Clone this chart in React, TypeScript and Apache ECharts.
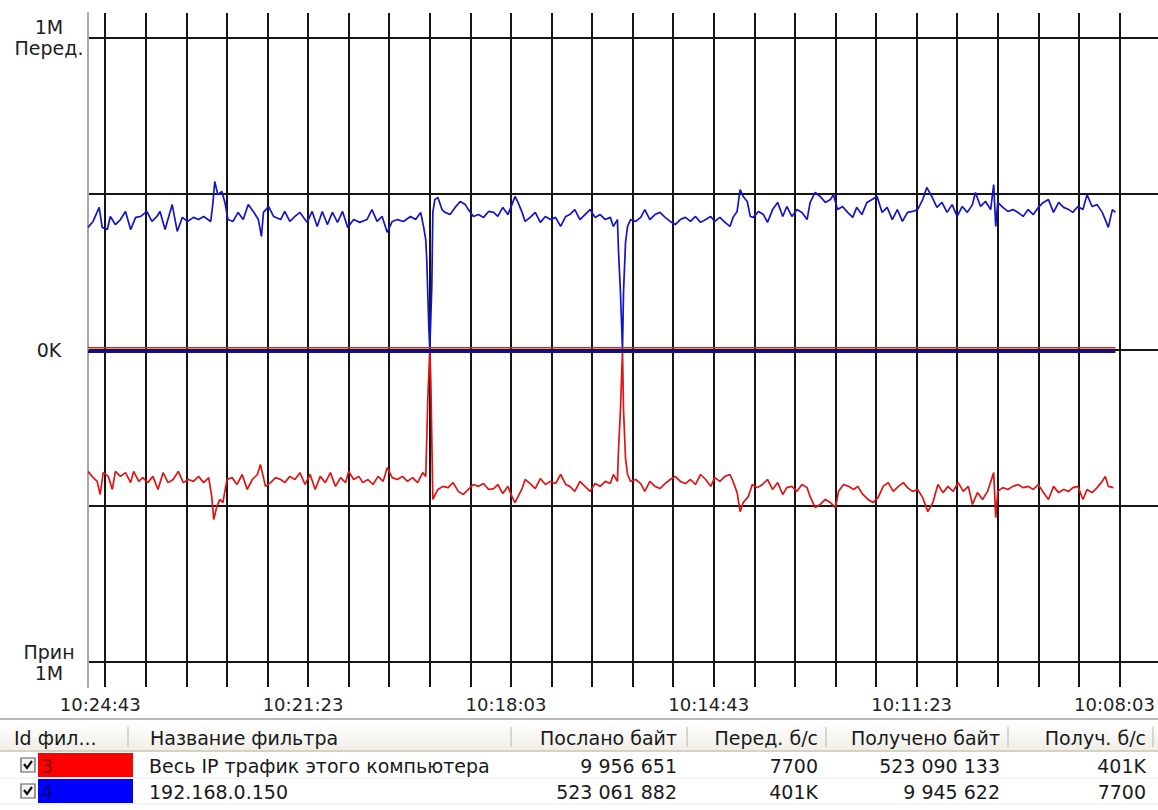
import React, { useEffect, useRef } from "react";
import * as echarts from "echarts";

const FONT = "DejaVu Sans";

// x axis: seconds elapsed (going back in time) since 10:24:43
const X_GRID_SECONDS = [0, 40, 80, 120, 160, 200, 240, 280, 320, 360, 400, 440, 480, 520, 560, 600, 640, 680, 720, 760, 800, 840, 880, 920, 960, 1000];
const X_LABEL_SECONDS = [0, 200, 400, 600, 800, 1000];
const X_LABELS = ["10:24:43", "10:21:23", "10:18:03", "10:14:43", "10:11:23", "10:08:03"];

// y axis in K (transmit up, receive down)
const Y_GRID = [-1000, -500, 0, 500, 1000];
const Y_LABEL_VALUES = [1000, 0, -1000];
const Y_LABELS = ["1M\nПеред.", "0K", "Прин\n1M"];

// filter 4 (192.168.0.150) transmit, K
const BLUE_TX: number[][] = [
  [-17, 393], [-12, 412], [-6, 457], [-3, 393], [2, 386], [5, 428], [10, 402], [15, 418], [20, 444], [25, 386],
  [30, 425], [35, 428], [41, 444], [46, 412], [51, 428], [54, 444], [59, 386], [66, 466], [71, 380], [76, 425],
  [81, 412], [87, 425], [92, 418], [97, 428], [104, 412], [106, 466], [108, 540], [111, 498], [115, 508], [118, 473],
  [121, 418], [126, 412], [131, 441], [136, 418], [141, 466], [146, 444], [151, 418], [154, 364], [156, 441], [161, 460],
  [166, 428], [173, 418], [177, 444], [182, 412], [187, 428], [192, 441], [199, 409], [204, 444], [209, 396], [214, 444],
  [219, 402], [224, 441], [229, 409], [234, 444], [239, 393], [245, 418], [251, 409], [258, 418], [263, 450], [268, 412],
  [273, 428], [278, 377], [283, 412], [288, 418], [294, 412], [301, 428], [306, 418], [311, 441], [314, 393], [316, 354],
  [317, 290], [319, 75], [320, 0], [322, 204], [323, 441], [325, 482], [328, 489], [332, 450], [335, 441], [340, 434],
  [345, 457], [350, 476], [355, 466], [358, 450], [363, 428], [368, 434], [373, 425], [378, 444], [383, 441], [387, 428],
  [392, 457], [397, 434], [401, 466], [404, 492], [407, 473], [411, 441], [414, 412], [419, 425], [424, 441], [429, 409],
  [434, 428], [439, 418], [444, 425], [449, 396], [454, 428], [458, 434], [463, 450], [468, 418], [473, 434], [478, 450],
  [483, 425], [488, 434], [493, 418], [498, 425], [501, 396], [505, 418], [506, 322], [508, 184], [510, 0], [511, 184],
  [513, 345], [515, 396], [518, 418], [523, 412], [528, 425], [532, 450], [537, 418], [542, 434], [547, 441], [552, 425],
  [557, 412], [562, 402], [567, 418], [572, 425], [577, 412], [582, 428], [587, 409], [592, 418], [597, 428], [601, 412],
  [606, 425], [611, 409], [616, 396], [619, 425], [623, 444], [626, 514], [629, 492], [633, 476], [636, 428], [639, 425],
  [644, 444], [649, 434], [653, 409], [658, 450], [663, 473], [668, 428], [672, 460], [677, 428], [682, 450], [687, 441],
  [692, 418], [695, 473], [700, 505], [705, 492], [710, 473], [715, 482], [718, 498], [722, 450], [727, 460], [732, 441],
  [737, 425], [741, 457], [746, 434], [751, 473], [756, 482], [761, 492], [766, 441], [771, 457], [776, 418], [781, 450],
  [786, 412], [791, 441], [796, 444], [801, 450], [806, 482], [810, 521], [815, 492], [820, 457], [825, 473], [830, 441],
  [835, 466], [840, 428], [845, 460], [850, 441], [855, 466], [858, 505], [863, 460], [868, 476], [873, 450], [876, 530],
  [878, 396], [880, 473], [885, 457], [890, 444], [895, 450], [900, 441], [905, 428], [910, 450], [915, 434], [920, 457],
  [925, 473], [930, 482], [935, 441], [940, 473], [945, 457], [950, 450], [954, 441], [959, 460], [964, 450], [968, 498],
  [973, 460], [978, 466], [983, 441], [986, 418], [989, 393], [993, 450], [996, 441],
];

// filter 3 (all IP traffic) receive, K (drawn downwards)
const RED_RX: number[][] = [
  [-17, -389], [-13, -405], [-8, -421], [-5, -463], [-2, -393], [3, -405], [7, -447], [10, -389], [15, -405], [20, -393],
  [25, -425], [28, -389], [33, -421], [37, -409], [42, -425], [47, -405], [52, -447], [57, -393], [62, -425], [67, -415],
  [72, -389], [77, -425], [82, -415], [87, -421], [92, -405], [97, -425], [102, -409], [105, -470], [107, -543], [110, -502],
  [113, -479], [116, -489], [120, -415], [125, -409], [130, -431], [135, -399], [140, -447], [145, -415], [150, -399], [153, -367],
  [158, -437], [163, -425], [168, -409], [173, -415], [177, -425], [182, -405], [187, -415], [192, -393], [197, -431], [202, -399],
  [207, -447], [212, -405], [217, -425], [222, -393], [227, -437], [232, -409], [237, -425], [240, -389], [245, -415], [250, -405],
  [254, -425], [259, -415], [264, -431], [269, -405], [274, -421], [278, -377], [283, -409], [288, -415], [293, -405], [298, -421],
  [303, -409], [308, -425], [313, -393], [316, -405], [317, -287], [318, -159], [320, 0], [321, -95], [322, -287], [323, -479],
  [328, -447], [333, -437], [338, -441], [343, -425], [348, -453], [353, -463], [358, -447], [363, -431], [368, -437], [373, -428],
  [378, -447], [383, -444], [387, -431], [392, -460], [397, -437], [401, -470], [404, -489], [407, -470], [411, -444], [414, -415],
  [419, -428], [424, -444], [429, -412], [434, -431], [439, -421], [444, -428], [449, -399], [454, -431], [458, -437], [463, -453],
  [468, -421], [473, -437], [478, -453], [483, -428], [488, -437], [493, -421], [498, -428], [501, -399], [505, -421], [506, -325],
  [508, -191], [510, 0], [511, -191], [513, -348], [515, -399], [518, -421], [523, -415], [528, -428], [532, -453], [537, -421],
  [542, -437], [547, -444], [552, -428], [557, -415], [562, -405], [567, -421], [572, -428], [577, -415], [582, -431], [587, -399],
  [592, -415], [597, -437], [601, -409], [606, -421], [611, -405], [616, -399], [619, -421], [623, -457], [626, -518], [629, -489],
  [634, -470], [638, -431], [643, -441], [648, -431], [653, -415], [658, -447], [663, -425], [668, -463], [672, -441], [677, -437],
  [682, -453], [687, -431], [692, -441], [695, -470], [700, -505], [705, -495], [710, -479], [715, -489], [720, -505], [723, -453],
  [728, -431], [733, -437], [738, -447], [742, -437], [747, -463], [752, -479], [757, -489], [762, -473], [767, -437], [772, -425],
  [777, -453], [782, -437], [787, -425], [791, -441], [796, -453], [801, -447], [806, -473], [811, -518], [816, -489], [821, -431],
  [826, -457], [831, -437], [836, -453], [841, -425], [846, -453], [851, -437], [855, -495], [860, -457], [865, -479], [870, -453],
  [876, -393], [878, -537], [880, -453], [885, -441], [890, -447], [895, -437], [900, -431], [905, -441], [910, -437], [915, -447],
  [920, -431], [925, -457], [930, -479], [935, -437], [940, -457], [945, -447], [950, -453], [954, -441], [959, -437], [964, -479],
  [968, -447], [973, -457], [978, -441], [983, -421], [986, -405], [989, -437], [994, -441],
];

// small components near zero (7700 b/s)
const RED_TX: number[][] = [[-17, 7], [996, 7]];
const BLUE_RX: number[][] = [[-17, -5], [996, -5]];

// table below the chart
const TABLE_HEADERS = ["Id фил...", "Название фильтра", "Послано байт", "Перед. б/с", "Получено байт", "Получ. б/с"];
const FILTER_IDS = ["3", "4"];
const FILTER_NAMES = ["Весь IP трафик этого компьютера", "192.168.0.150"];
const SENT_BYTES = ["9 956 651", "523 061 882"];
const TX_RATES = ["7700", "401K"];
const RECV_BYTES = ["523 090 133", "9 945 622"];
const RX_RATES = ["401K", "7700"];
const FILTER_COLORS = ["#ff0000", "#0000ff"];
const FILTER_ID_COLORS = ["#8a0000", "#00007a"];

const TFONT = `19px '${FONT}'`;

function buildTable(): any[] {
  const els: any[] = [];
  const headerTop = 722;
  const headerH = 29;
  const rowH = 26;
  const colSeps = [128, 511, 687, 826, 1008, 1153];
  const rightEdges = [677, 818, 1000, 1146];
  els.push({ type: "rect", shape: { x: 0, y: 716, width: 1158, height: 94 }, style: { fill: "#ffffff" }, silent: true });
  els.push({ type: "line", shape: { x1: 0, y1: 719, x2: 1158, y2: 719 }, style: { stroke: "#b9b9b9", lineWidth: 2 }, silent: true });
  els.push({
    type: "rect",
    shape: { x: 0, y: headerTop, width: 1158, height: headerH },
    style: {
      fill: new echarts.graphic.LinearGradient(0, 0, 0, 1, [
        { offset: 0, color: "#ffffff" },
        { offset: 1, color: "#efeee6" },
      ]),
    },
    silent: true,
  });
  els.push({ type: "line", shape: { x1: 0, y1: headerTop + headerH, x2: 1158, y2: headerTop + headerH }, style: { stroke: "#d5d2c2", lineWidth: 2 }, silent: true });
  colSeps.forEach((x) => {
    els.push({ type: "line", shape: { x1: x, y1: headerTop + 5, x2: x, y2: headerTop + headerH - 4 }, style: { stroke: "#cdcbbd", lineWidth: 1.5 }, silent: true });
  });
  const hy = headerTop + headerH / 2 + 1;
  els.push({ type: "text", style: { text: TABLE_HEADERS[0], x: 14, y: hy, font: TFONT, fill: "#1a1a1a", verticalAlign: "middle", align: "left" }, silent: true });
  els.push({ type: "text", style: { text: TABLE_HEADERS[1], x: 150, y: hy, font: TFONT, fill: "#1a1a1a", verticalAlign: "middle", align: "left" }, silent: true });
  for (let c = 2; c < 6; c++) {
    els.push({ type: "text", style: { text: TABLE_HEADERS[c], x: rightEdges[c - 2], y: hy, font: TFONT, fill: "#1a1a1a", verticalAlign: "middle", align: "right" }, silent: true });
  }
  for (let r = 0; r < FILTER_NAMES.length; r++) {
    const top = headerTop + headerH + 1 + r * rowH;
    const cy = top + rowH / 2;
    els.push({ type: "line", shape: { x1: 0, y1: top + rowH, x2: 1158, y2: top + rowH }, style: { stroke: "#ececec", lineWidth: 1 }, silent: true });
    // checkbox
    els.push({ type: "rect", shape: { x: 21, y: cy - 7, width: 14, height: 14 }, style: { fill: "#f4f4f0", stroke: "#5a5a5a", lineWidth: 1.2 }, silent: true });
    els.push({ type: "polyline", shape: { points: [[24, cy - 1], [27, cy + 3], [32, cy - 4]] }, style: { stroke: "#111111", lineWidth: 2.2, fill: null }, silent: true });
    // colour swatch
    els.push({ type: "rect", shape: { x: 38, y: top + 1, width: 95, height: rowH - 2 }, style: { fill: FILTER_COLORS[r] }, silent: true });
    els.push({ type: "text", style: { text: FILTER_IDS[r], x: 41, y: cy + 1, font: TFONT, fill: FILTER_ID_COLORS[r], verticalAlign: "middle", align: "left" }, silent: true });
    els.push({ type: "text", style: { text: FILTER_NAMES[r], x: 149, y: cy + 1, font: TFONT, fill: "#1a1a1a", verticalAlign: "middle", align: "left" }, silent: true });
    const vals = [SENT_BYTES[r], TX_RATES[r], RECV_BYTES[r], RX_RATES[r]];
    vals.forEach((v, i) => {
      els.push({ type: "text", style: { text: v, x: rightEdges[i], y: cy + 1, font: TFONT, fill: "#1a1a1a", verticalAlign: "middle", align: "right" }, silent: true });
    });
  }
  return els;
}

export default function App() {
  const ref = useRef<HTMLDivElement>(null);
  useEffect(() => {
    if (!ref.current) return;
    const chart = echarts.init(ref.current, null, { renderer: "svg" });
    const lineSeries = (name: string, data: number[][], color: string, width: number, z: number) => ({
      type: "line",
      name,
      data,
      symbol: "none",
      showSymbol: false,
      silent: true,
      z,
      lineStyle: { color, width },
      emphasis: { disabled: true },
    });
    chart.setOption({
      animation: false,
      backgroundColor: "#ffffff",
      textStyle: { fontFamily: FONT },
      grid: { left: 88, right: 0, top: 13, bottom: 123, containLabel: false },
      xAxis: {
        type: "value",
        min: -17,
        max: 1038,
        axisLine: { show: false },
        axisTick: { show: false, customValues: X_GRID_SECONDS },
        splitLine: { show: true, lineStyle: { color: "#151515", width: 2 } },
        axisLabel: {
          customValues: X_LABEL_SECONDS,
          formatter: (v: number) => {
            const i = X_LABEL_SECONDS.indexOf(Math.round(v));
            return i >= 0 ? X_LABELS[i] : "";
          },
          color: "#222222",
          fontSize: 18,
          fontFamily: FONT,
          margin: 8,
          padding: [0, 10, 0, 0],
          hideOverlap: false,
        },
      },
      yAxis: {
        type: "value",
        min: -1080,
        max: 1080,
        axisLine: { show: true, onZero: false, lineStyle: { color: "#a8a8a8", width: 2 } },
        axisTick: { show: false, customValues: Y_GRID },
        splitLine: { show: true, lineStyle: { color: "#151515", width: 2 } },
        axisLabel: {
          customValues: Y_LABEL_VALUES,
          formatter: (v: number) => {
            const i = Y_LABEL_VALUES.indexOf(Math.round(v));
            return i >= 0 ? Y_LABELS[i] : "";
          },
          color: "#222222",
          fontSize: 19,
          fontFamily: FONT,
          lineHeight: 21,
          align: "center",
          margin: 39,
        },
      },
      series: [
        lineSeries("192.168.0.150 Перед.", BLUE_TX, "#1414c8", 1.7, 3),
        lineSeries("Весь IP трафик Прин", RED_RX, "#e01414", 1.7, 3),
        lineSeries("192.168.0.150 Прин", BLUE_RX, "#10108a", 3, 4),
        lineSeries("Весь IP трафик Перед.", RED_TX, "#e02020", 1.5, 5),
      ],
      graphic: buildTable(),
    });
    return () => chart.dispose();
  }, []);
  return (
    <div style={{ position: "absolute", left: 0, top: 0, width: 1158, height: 810, background: "#ffffff" }}>
      <div ref={ref} style={{ width: 1158, height: 810 }} />
    </div>
  );
}
